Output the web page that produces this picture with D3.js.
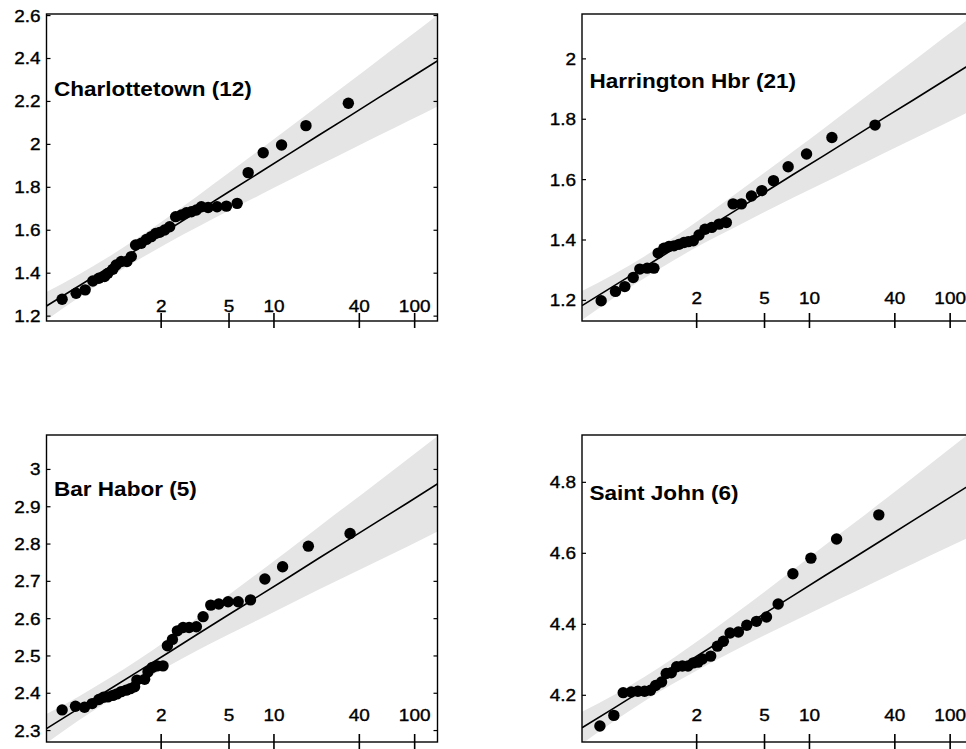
<!DOCTYPE html>
<html>
<head>
<meta charset="utf-8">
<script src="https://cdn.jsdelivr.net/npm/d3@7"></script>
<style>
  body { margin: 0; background: #fff; }
  text { font-family: "Liberation Sans", Arial, Helvetica, sans-serif; }
</style>
</head>
<body>
<div id="chart"></div>
<script>
// station labels, one per panel
const stations = ["Charlottetown (12)", "Harrington Hbr (21)", "Bar Habor (5)", "Saint John (6)"];

// return periods marked on the bottom axis
const returnPeriods = [2, 5, 10, 40, 100];

// y tick values per panel
const charTicks = [1.2, 1.4, 1.6, 1.8, 2, 2.2, 2.4, 2.6];
const harTicks = [1.2, 1.4, 1.6, 1.8, 2];
const barTicks = [2.3, 2.4, 2.5, 2.6, 2.7, 2.8, 2.9, 3];
const sjTicks = [4.2, 4.4, 4.6, 4.8];

// annual maxima: gumbel reduced variate / level
const charX = [-1.279, -1.045, -0.894, -0.766, -0.666, -0.571, -0.515, -0.431, -0.376, -0.292, -0.197, -0.124, -0.052, 0.043, 0.127, 0.210, 0.283, 0.350, 0.433, 0.517, 0.617, 0.712, 0.796, 0.880, 0.963, 1.047, 1.159, 1.309, 1.465, 1.644, 1.828, 2.079, 2.386, 2.793, 3.501];
const charY = [1.276, 1.304, 1.320, 1.361, 1.374, 1.382, 1.397, 1.416, 1.436, 1.452, 1.452, 1.475, 1.529, 1.537, 1.555, 1.568, 1.583, 1.588, 1.599, 1.614, 1.661, 1.669, 1.679, 1.684, 1.692, 1.707, 1.704, 1.707, 1.710, 1.723, 1.866, 1.959, 1.995, 2.085, 2.189];

const harX = [-1.220, -0.981, -0.825, -0.685, -0.574, -0.451, -0.339, -0.267, -0.172, -0.088, -0.004, 0.079, 0.163, 0.235, 0.319, 0.414, 0.514, 0.626, 0.749, 0.871, 0.983, 1.122, 1.290, 1.463, 1.658, 1.903, 2.210, 2.634, 3.354];
const harY = [1.197, 1.228, 1.244, 1.274, 1.302, 1.305, 1.305, 1.355, 1.371, 1.377, 1.379, 1.384, 1.390, 1.393, 1.396, 1.415, 1.434, 1.440, 1.451, 1.456, 1.518, 1.518, 1.544, 1.562, 1.595, 1.641, 1.683, 1.738, 1.779];

const barX = [-1.279, -1.056, -0.905, -0.777, -0.666, -0.588, -0.515, -0.431, -0.364, -0.292, -0.208, -0.141, -0.069, -0.030, 0.099, 0.155, 0.228, 0.306, 0.406, 0.479, 0.563, 0.646, 0.741, 0.841, 0.963, 1.075, 1.203, 1.337, 1.493, 1.661, 1.867, 2.107, 2.403, 2.833, 3.530];
const barY = [2.354, 2.364, 2.361, 2.371, 2.382, 2.388, 2.389, 2.393, 2.397, 2.403, 2.407, 2.411, 2.416, 2.434, 2.436, 2.456, 2.468, 2.472, 2.472, 2.526, 2.543, 2.566, 2.575, 2.575, 2.577, 2.604, 2.635, 2.638, 2.644, 2.644, 2.649, 2.705, 2.738, 2.793, 2.827];

const sjX = [-1.241, -1.008, -0.852, -0.718, -0.607, -0.495, -0.395, -0.311, -0.211, -0.133, -0.049, 0.040, 0.135, 0.230, 0.319, 0.397, 0.470, 0.609, 0.721, 0.821, 0.933, 1.072, 1.212, 1.374, 1.541, 1.736, 1.982, 2.283, 2.712, 3.417];
const sjY = [4.112, 4.142, 4.206, 4.208, 4.210, 4.210, 4.213, 4.226, 4.236, 4.260, 4.262, 4.279, 4.281, 4.281, 4.290, 4.292, 4.301, 4.309, 4.337, 4.351, 4.374, 4.377, 4.396, 4.407, 4.419, 4.456, 4.541, 4.585, 4.639, 4.707];

// fitted line + confidence band, read at these reduced variates
const bandX = [-1.54, -1, -0.5, 0, 0.5, 1, 1.5, 2, 2.5, 3, 3.5, 4, 4.5, 5];
const charFit = [1.245, 1.338, 1.425, 1.513, 1.601, 1.688, 1.776, 1.863, 1.951, 2.039, 2.126, 2.214, 2.301, 2.389];
const charLo = [1.180, 1.284, 1.376, 1.461, 1.541, 1.615, 1.688, 1.758, 1.829, 1.899, 1.968, 2.038, 2.107, 2.176];
const charHi = [1.310, 1.392, 1.474, 1.565, 1.661, 1.761, 1.864, 1.968, 2.073, 2.179, 2.284, 2.390, 2.495, 2.602];
const harFit = [1.181, 1.247, 1.308, 1.370, 1.432, 1.493, 1.555, 1.617, 1.678, 1.740, 1.802, 1.863, 1.925, 1.987];
const harLo = [1.133, 1.208, 1.272, 1.332, 1.388, 1.439, 1.490, 1.540, 1.588, 1.637, 1.686, 1.734, 1.782, 1.831];
const harHi = [1.229, 1.286, 1.344, 1.408, 1.476, 1.547, 1.620, 1.694, 1.768, 1.843, 1.918, 1.992, 2.068, 2.143];
const barFit = [2.304, 2.358, 2.408, 2.458, 2.508, 2.559, 2.609, 2.659, 2.709, 2.760, 2.810, 2.860, 2.910, 2.961];
const barLo = [2.265, 2.326, 2.378, 2.427, 2.472, 2.515, 2.556, 2.596, 2.636, 2.676, 2.715, 2.754, 2.793, 2.833];
const barHi = [2.343, 2.390, 2.438, 2.489, 2.544, 2.603, 2.662, 2.722, 2.782, 2.844, 2.905, 2.966, 3.027, 3.089];
const sjFit = [4.107, 4.163, 4.216, 4.269, 4.322, 4.375, 4.428, 4.481, 4.534, 4.586, 4.639, 4.692, 4.745, 4.798];
const sjLo = [4.062, 4.126, 4.182, 4.233, 4.280, 4.324, 4.367, 4.408, 4.449, 4.489, 4.530, 4.570, 4.610, 4.650];
const sjHi = [4.152, 4.200, 4.250, 4.305, 4.364, 4.426, 4.489, 4.554, 4.619, 4.683, 4.748, 4.814, 4.880, 4.946];

// axis limits
const xDomain = [-1.54, 4.99];
const yDomains = [[1.175, 2.605], [1.13, 2.147], [2.268, 3.091], [4.067, 4.932]];

// layout
const width = 966, height = 749;
const panelW = 391, panelH = 307;
const origins = [[46.5, 14], [582, 14], [46.5, 435], [582, 435]];
const titleBaseline = [81.7, 74.3, 61, 65];
const periodLift = [9.5, 17, 21.5, 21];
const tickFont = 16.5, tickStretch = 1.15;
const titleFont = 20.5, titleStretch = 1.1;

const panels = [
    { ticks: charTicks, px: charX, py: charY, fit: charFit, lo: charLo, hi: charHi },
    { ticks: harTicks, px: harX, py: harY, fit: harFit, lo: harLo, hi: harHi },
    { ticks: barTicks, px: barX, py: barY, fit: barFit, lo: barLo, hi: barHi },
    { ticks: sjTicks, px: sjX, py: sjY, fit: sjFit, lo: sjLo, hi: sjHi }
];

// return period -> gumbel reduced variate
const gumbel = T => -Math.log(-Math.log(1 - 1 / T));

const svg = d3.select("#chart")
    .append("svg")
    .attr("width", width)
    .attr("height", height)
    .style("display", "block");

const x = d3.scaleLinear().domain(xDomain).range([0, panelW]);

panels.forEach((p, i) => {
    const y = d3.scaleLinear().domain(yDomains[i]).range([panelH, 0]);
    const g = svg.append("g")
        .attr("transform", `translate(${origins[i][0]},${origins[i][1]})`);

    g.append("clipPath").attr("id", "clip" + i)
        .append("rect").attr("width", panelW).attr("height", panelH);

    const band = bandX.map((v, k) => ({ x: v, lo: p.lo[k], hi: p.hi[k], fit: p.fit[k] }));

    g.append("path")
        .datum(band)
        .attr("clip-path", `url(#clip${i})`)
        .attr("fill", "#e5e5e5")
        .attr("d", d3.area()
            .curve(d3.curveMonotoneX)
            .x(d => x(d.x))
            .y0(d => y(d.lo))
            .y1(d => y(d.hi)));

    g.append("path")
        .datum(band)
        .attr("clip-path", `url(#clip${i})`)
        .attr("fill", "none")
        .attr("stroke", "#000")
        .attr("stroke-width", 1.6)
        .attr("d", d3.line().x(d => x(d.x)).y(d => y(d.fit)));

    g.selectAll("circle")
        .data(p.px.map((v, k) => [v, p.py[k]]))
        .join("circle")
        .attr("cx", d => x(d[0]))
        .attr("cy", d => y(d[1]))
        .attr("r", 5.7)
        .attr("fill", "#000");

    g.append("rect")
        .attr("width", panelW)
        .attr("height", panelH)
        .attr("fill", "none")
        .attr("stroke", "#000")
        .attr("stroke-width", 1.4);

    // left axis, ticks pointing inward
    g.append("g")
        .call(d3.axisLeft(y).tickValues(p.ticks).tickSize(-4).tickSizeOuter(0).tickPadding(6).tickFormat(d3.format("~g")))
        .call(a => a.select(".domain").remove())
        .call(a => a.selectAll(".tick line").attr("stroke-width", 1.2))
        .call(a => a.selectAll(".tick text")
            .attr("x", null).attr("dy", "0.36em")
            .attr("transform", `translate(-6,0) scale(${tickStretch},1)`)
            .attr("font-size", tickFont).attr("fill", "#000")
            .attr("stroke", "#000").attr("stroke-width", 0.35));

    // right axis, ticks only
    g.append("g")
        .attr("transform", `translate(${panelW},0)`)
        .call(d3.axisRight(y).tickValues(p.ticks).tickSize(-4).tickSizeOuter(0).tickFormat(""))
        .call(a => a.select(".domain").remove())
        .call(a => a.selectAll(".tick line").attr("stroke-width", 1.2));

    // return period axis: ticks cross the frame, labels sit inside
    g.append("g")
        .attr("transform", `translate(0,${panelH})`)
        .call(d3.axisBottom(x).tickValues(returnPeriods.map(gumbel)).tickSize(7).tickSizeOuter(0)
            .tickFormat((d, k) => returnPeriods[k]))
        .call(a => a.select(".domain").remove())
        .call(a => a.selectAll(".tick line").attr("y1", -8).attr("stroke-width", 1.6))
        .call(a => a.selectAll(".tick text")
            .attr("y", null).attr("dy", null)
            .attr("transform", `translate(0,${-periodLift[i]}) scale(${tickStretch},1)`)
            .attr("font-size", tickFont).attr("fill", "#000")
            .attr("stroke", "#000").attr("stroke-width", 0.35));

    g.append("text")
        .attr("transform", `translate(7.5,${titleBaseline[i]}) scale(${titleStretch},1)`)
        .attr("font-size", titleFont)
        .attr("font-weight", "bold")
        .text(stations[i]);
});
</script>
</body>
</html>
